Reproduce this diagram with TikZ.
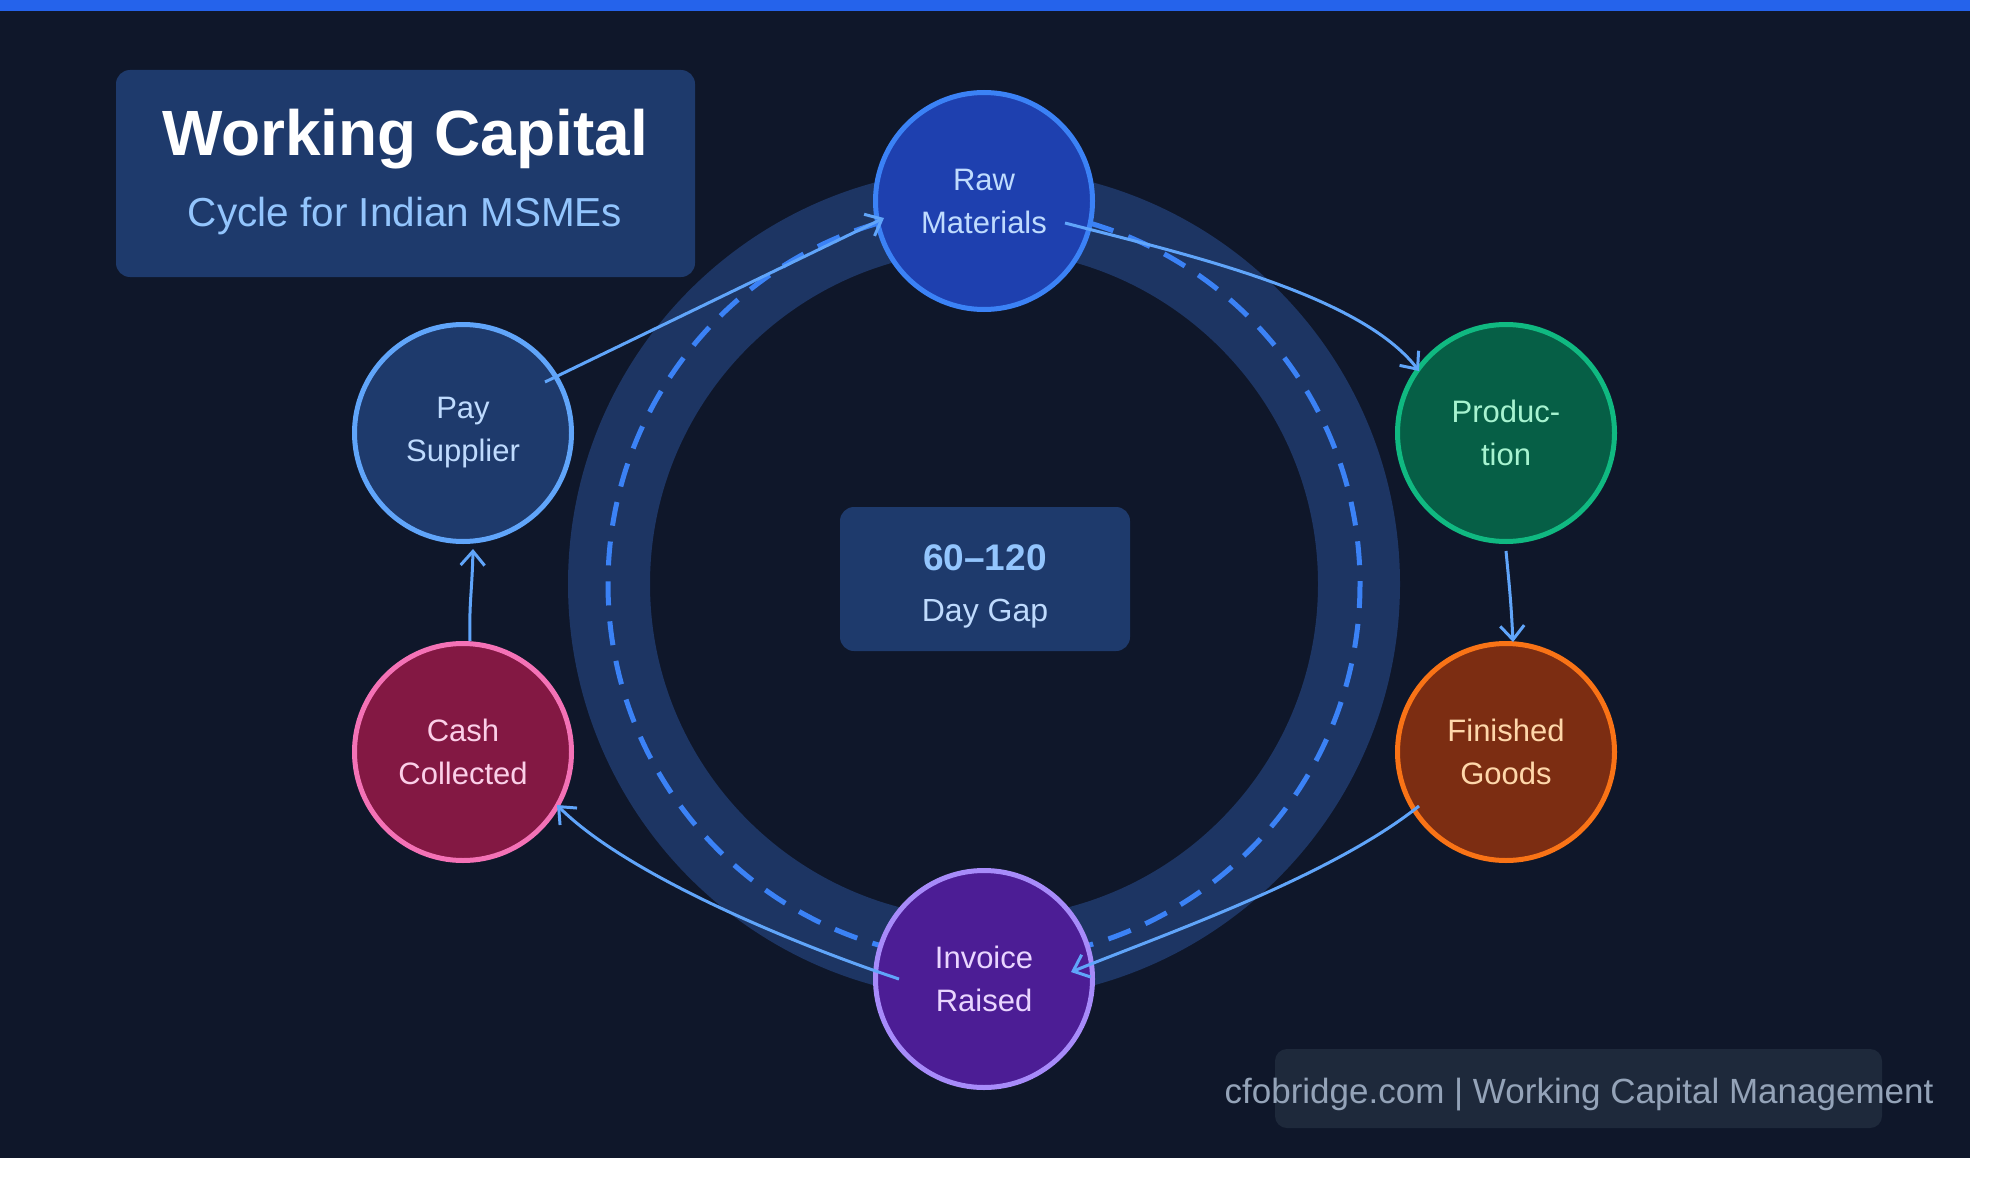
\documentclass[tikz,border=0pt]{standalone}
\usepackage{fontspec}
\setmainfont{Liberation Sans}
\usetikzlibrary{arrows.meta,calc}

\definecolor{pagebg}{HTML}{0F172A}
\definecolor{topbar}{HTML}{2563EB}
\definecolor{panel}{HTML}{1E3A6C}
\definecolor{ringband}{HTML}{1D3563}
\definecolor{dashblue}{HTML}{3B82F6}
\definecolor{flow}{HTML}{60A5FA}
\definecolor{footpanel}{HTML}{1E293B}
\definecolor{foottext}{HTML}{94A3B8}
\definecolor{subtext}{HTML}{93C5FD}
\definecolor{lighttext}{HTML}{BFDBFE}

\definecolor{rawfill}{HTML}{1E40AF}
\definecolor{rawline}{HTML}{3B82F6}
\definecolor{prodfill}{HTML}{065F46}
\definecolor{prodline}{HTML}{10B981}
\definecolor{prodtext}{HTML}{A7F3D0}
\definecolor{finfill}{HTML}{7C2D12}
\definecolor{finline}{HTML}{F97316}
\definecolor{fintext}{HTML}{FED7AA}
\definecolor{invfill}{HTML}{4C1D95}
\definecolor{invline}{HTML}{A78BFA}
\definecolor{invtext}{HTML}{E9D5FF}
\definecolor{cashfill}{HTML}{831843}
\definecolor{cashline}{HTML}{F472B6}
\definecolor{cashtext}{HTML}{FBCFE8}
\definecolor{payfill}{HTML}{1E3A6C}
\definecolor{payline}{HTML}{60A5FA}

\begin{document}
\begin{tikzpicture}[x=1pt,y=-1pt,
  stage/.style={circle, minimum size=217pt, inner sep=0pt, line width=5pt,
    align=center, font=\fontsize{31}{43}\selectfont},
  flowline/.style={draw=flow, line width=3pt,
    -{Straight Barb[length=14pt,width=24pt,line width=3pt]}}]

\useasboundingbox (0,0) rectangle (1999,1188);
\fill[white] (0,0) rectangle (1999,1188);
\fill[pagebg] (0,0) rectangle (1970,1158);
\fill[topbar] (0,0) rectangle (1970,11);

% title panel
\node[fill=panel, rounded corners=14pt, minimum width=579pt, minimum height=207pt,
  inner sep=0pt] (titlebox) at (405.5,173.5) {};
\node[anchor=base, text=white, font=\bfseries\fontsize{64}{72}\selectfont]
  (title) at (405,156) {Working Capital};
\node[anchor=base, text=subtext, font=\fontsize{40.5}{48}\selectfont]
  (subtitle) at (405,226) {Cycle for Indian MSMEs};

% cycle band with dashed track
\draw[ringband, line width=82pt] (984,584) circle[radius=375];
\draw[dashblue, line width=5pt, dash pattern=on 24pt off 16pt] (984,584) circle[radius=376];

% centre label
\node[fill=panel, rounded corners=14pt, minimum width=290pt, minimum height=144pt,
  inner sep=0pt] (gapbox) at (985,579) {};
\node[anchor=base, text=subtext, font=\bfseries\fontsize{37}{44}\selectfont]
  (gapnum) at (985,570) {60–120};
\node[anchor=base, text=lighttext, font=\fontsize{32}{40}\selectfont]
  (gaptxt) at (985,621) {Day Gap};

% stages
\node[stage, fill=rawfill, draw=rawline, text=lighttext] (raw) at (984,201) {Raw\\Materials};
\node[stage, fill=prodfill, draw=prodline, text=prodtext] (prod) at (1506,433) {Produc-\\tion};
\node[stage, fill=finfill, draw=finline, text=fintext] (fin) at (1506,752) {Finished\\Goods};
\node[stage, fill=invfill, draw=invline, text=invtext] (inv) at (984,979) {Invoice\\Raised};
\node[stage, fill=cashfill, draw=cashline, text=cashtext] (cash) at (463,752) {Cash\\Collected};
\node[stage, fill=payfill, draw=payline, text=lighttext] (pay) at (463,433) {Pay\\Supplier};

% flows
\draw[flowline] ($(pay)+(82,-51)$) -- ($(raw)+(-100,17)$);
\draw[flowline] ($(raw)+(81,22)$) .. controls ($(raw)+(196,52)$) and ($(prod)+(-147,-140)$) .. ($(prod)+(-87,-62)$);
\draw[flowline] ($(prod)+(0,118)$) .. controls ($(prod)+(4,160)$) and ($(fin)+(5,-150)$) .. ($(fin)+(7,-110)$);
\draw[flowline] ($(fin)+(-87,54)$) .. controls ($(fin)+(-176,125)$) and ($(inv)+(181,-45)$) .. ($(inv)+(87,-7)$);
\draw[flowline] ($(inv)+(-85,0)$) .. controls ($(inv)+(-190,-35)$) and ($(cash)+(164,123)$) .. ($(cash)+(94,53)$);
\draw[flowline] ($(cash)+(7,-111)$) .. controls ($(cash)+(6,-150)$) and ($(pay)+(9,160)$) .. ($(pay)+(10,116)$);

% footer
\node[fill=footpanel, rounded corners=12pt, minimum width=607pt, minimum height=79pt,
  inner sep=0pt] (footbox) at (1578.5,1088.5) {};
\node[anchor=base, text=foottext, font=\fontsize{35}{40}\selectfont]
  (foot) at (1579,1103) {cfobridge.com | Working Capital Management};
\end{tikzpicture}
\end{document}
